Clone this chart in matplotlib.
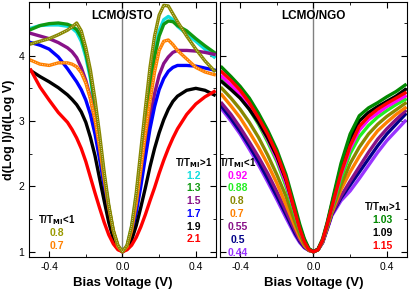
import numpy as np
import matplotlib
matplotlib.use('Agg')
import matplotlib.pyplot as plt
from matplotlib.ticker import MultipleLocator

plt.rcParams['font.family'] = ['Liberation Sans', 'DejaVu Sans']

# ---- LCMO/STO panel ----
x_sto = [-0.5, -0.45, -0.4, -0.35, -0.3, -0.275, -0.25, -0.225, -0.2, -0.175, -0.15, -0.125,
         -0.1, -0.075, -0.05, -0.025, 0, 0.025, 0.05, 0.075, 0.1, 0.125, 0.15, 0.175, 0.2,
         0.225, 0.25, 0.275, 0.3, 0.35, 0.4, 0.45, 0.5]
sto_cyan = [4.42, 4.46, 4.47, 4.47, 4.45, 4.42, 4.36, 4.22, 3.98, 3.65, 3.2, 2.68, 2.15, 1.68, 1.3, 1.08, 1.0,
            1.09, 1.38, 1.85, 2.45, 3.05, 3.6, 4.05, 4.38, 4.55, 4.6, 4.55, 4.45, 4.33, 4.22, 4.1, 3.98]
sto_green = [4.4, 4.46, 4.49, 4.5, 4.48, 4.45, 4.4, 4.28, 4.04, 3.7, 3.24, 2.7, 2.15, 1.68, 1.3, 1.08, 1.0,
             1.08, 1.35, 1.8, 2.38, 2.98, 3.52, 3.98, 4.3, 4.48, 4.53, 4.52, 4.46, 4.38, 4.26, 4.15, 4.05]
sto_purple = [4.34, 4.3, 4.26, 4.2, 4.12, 4.06, 3.97, 3.82, 3.62, 3.36, 3.0, 2.55, 2.08, 1.65, 1.3, 1.08, 1.0,
              1.08, 1.32, 1.7, 2.15, 2.62, 3.05, 3.42, 3.7, 3.88, 3.98, 4.05, 4.08, 4.08, 4.07, 4.05, 4.02]
sto_blue = [4.2, 4.16, 4.1, 3.98, 3.8, 3.7, 3.6, 3.48, 3.32, 3.1, 2.8, 2.42, 2.0, 1.6, 1.28, 1.07, 1.0,
            1.07, 1.28, 1.6, 2.0, 2.45, 2.88, 3.22, 3.48, 3.65, 3.76, 3.82, 3.85, 3.85, 3.84, 3.81, 3.78]
sto_black = [3.77, 3.68, 3.6, 3.51, 3.4, 3.33, 3.25, 3.14, 2.98, 2.75, 2.47, 2.12, 1.78, 1.45, 1.2, 1.05, 1.0,
             1.05, 1.18, 1.4, 1.68, 1.98, 2.3, 2.58, 2.82, 3.02, 3.18, 3.3, 3.38, 3.47, 3.5, 3.47, 3.4]
sto_red = [3.78, 3.52, 3.32, 3.13, 2.98, 2.87, 2.74, 2.58, 2.38, 2.14, 1.9, 1.67, 1.45, 1.26, 1.12, 1.03, 1.0,
           1.03, 1.1, 1.22, 1.38, 1.57, 1.78, 1.98, 2.2, 2.4, 2.58, 2.74, 2.88, 3.1, 3.26, 3.37, 3.45]
sto_orange = [3.93, 3.87, 3.85, 3.89, 3.89, 3.87, 3.83, 3.74, 3.58, 3.34, 3.02, 2.6, 2.12, 1.68, 1.32, 1.08, 1.0,
              1.08, 1.33, 1.74, 2.25, 2.8, 3.3, 3.75, 4.08, 4.22, 4.24, 4.17, 4.08, 3.95, 3.82, 3.75, 3.71]
sto_olive = [4.18, 4.22, 4.26, 4.32, 4.39, 4.44, 4.5, 4.38, 4.12, 3.78, 3.33, 2.8, 2.22, 1.72, 1.33, 1.1, 1.0,
             1.1, 1.4, 1.9, 2.55, 3.2, 3.82, 4.3, 4.62, 4.77, 4.76, 4.64, 4.52, 4.3, 4.1, 3.92, 3.77]

# ---- LCMO/NGO panel ----
x_ngo = [-0.5, -0.45, -0.4, -0.35, -0.3, -0.25, -0.2, -0.15, -0.1, -0.075, -0.05, -0.025, 0,
         0.025, 0.05, 0.075, 0.1, 0.15, 0.2, 0.25, 0.3, 0.35, 0.4, 0.45, 0.5]
ngo_violet = [3.18, 3.0, 2.8, 2.57, 2.33, 2.07, 1.8, 1.52, 1.25, 1.14, 1.06, 1.02, 1.0,
              1.03, 1.14, 1.34, 1.55, 1.78, 1.93, 2.12, 2.32, 2.52, 2.7, 2.85, 3.0]
ngo_navy = [3.22, 3.04, 2.84, 2.62, 2.38, 2.12, 1.85, 1.57, 1.28, 1.16, 1.07, 1.02, 1.0,
            1.03, 1.14, 1.35, 1.57, 1.82, 2.02, 2.22, 2.42, 2.62, 2.8, 2.95, 3.1]
ngo_purple = [3.27, 3.1, 2.9, 2.68, 2.45, 2.2, 1.92, 1.62, 1.32, 1.18, 1.08, 1.02, 1.0,
              1.03, 1.15, 1.36, 1.58, 1.85, 2.08, 2.3, 2.52, 2.72, 2.88, 3.02, 3.15]
ngo_orange = [3.4, 3.23, 3.05, 2.83, 2.6, 2.34, 2.05, 1.72, 1.38, 1.22, 1.1, 1.02, 1.0,
              1.03, 1.15, 1.37, 1.6, 1.95, 2.22, 2.46, 2.67, 2.85, 2.98, 3.1, 3.2]
ngo_olive = [3.5, 3.35, 3.18, 2.98, 2.75, 2.48, 2.18, 1.85, 1.45, 1.27, 1.12, 1.03, 1.0,
             1.03, 1.16, 1.38, 1.62, 2.02, 2.35, 2.6, 2.8, 2.95, 3.07, 3.17, 3.27]
ngo_lime = [3.66, 3.52, 3.37, 3.18, 2.95, 2.68, 2.38, 2.0, 1.55, 1.33, 1.15, 1.03, 1.0,
            1.03, 1.17, 1.4, 1.65, 2.12, 2.5, 2.76, 2.93, 3.06, 3.16, 3.25, 3.33]
ngo_magenta = [3.68, 3.55, 3.4, 3.2, 2.98, 2.72, 2.42, 2.05, 1.6, 1.36, 1.17, 1.04, 1.0,
               1.04, 1.17, 1.42, 1.68, 2.18, 2.58, 2.86, 3.02, 3.12, 3.22, 3.3, 3.38]
ngo_black = [3.6, 3.48, 3.35, 3.18, 2.98, 2.74, 2.46, 2.1, 1.62, 1.38, 1.18, 1.04, 1.0,
             1.04, 1.18, 1.43, 1.72, 2.3, 2.72, 3.0, 3.13, 3.22, 3.3, 3.38, 3.48]
ngo_green = [3.82, 3.68, 3.53, 3.35, 3.12, 2.86, 2.56, 2.18, 1.68, 1.42, 1.2, 1.05, 1.0,
             1.04, 1.2, 1.45, 1.75, 2.35, 2.8, 3.08, 3.2, 3.28, 3.37, 3.45, 3.55]
ngo_red = [3.75, 3.62, 3.47, 3.28, 3.05, 2.8, 2.5, 2.12, 1.6, 1.35, 1.15, 1.03, 1.0,
           1.03, 1.18, 1.42, 1.68, 2.2, 2.62, 2.92, 3.07, 3.18, 3.27, 3.35, 3.43]

sto_low_labels = ['0.8', '0.7']
sto_low_colors = ['#999900', '#ff8000']
sto_high_labels = ['1.2', '1.3', '1.5', '1.7', '1.9', '2.1']
sto_high_colors = ['#11dddd', '#119911', '#881188', '#0000ff', '#000000', '#ff0000']
ngo_low_labels = ['0.92', '0.88', '0.8', '0.7', '0.55', '0.5', '0.44']
ngo_low_colors = ['#ff00ff', '#22ee22', '#888800', '#ff8000', '#881188', '#000088', '#9933ff']
ngo_high_labels = ['1.03', '1.09', '1.15']
ngo_high_colors = ['#008800', '#000000', '#ff0000']


def style_axes(ax):
    ax.set_xlim(-0.51, 0.51)
    ax.set_ylim(0.92, 4.82)
    ax.xaxis.set_major_locator(MultipleLocator(0.4))
    ax.xaxis.set_minor_locator(MultipleLocator(0.2))
    ax.yaxis.set_major_locator(MultipleLocator(1))
    ax.yaxis.set_minor_locator(MultipleLocator(0.5))
    ax.tick_params(which='both', direction='in', top=True, right=True, labelsize=7.5)
    ax.tick_params(which='major', length=4)
    ax.tick_params(which='minor', length=2.5)
    ax.set_xticks([-0.4, 0.0, 0.4])
    ax.set_xticklabels(['-0.4', '0.0', '0.4'])
    ax.axvline(0, color='gray', lw=1, zorder=0)
    ax.set_xlabel('Bias Voltage (V)', fontsize=9.5, fontweight='bold', labelpad=4)
    for s in ax.spines.values():
        s.set_linewidth(0.8)


def label_block(ax, x, y0, dy, header, labels, colors):
    ax.text(x, y0, header, fontsize=7, fontweight='bold', ha='center', va='center')
    for i, (lab, col) in enumerate(zip(labels, colors)):
        ax.text(x, y0 - dy * (i + 1), lab, fontsize=7.5, fontweight='bold', color=col,
                ha='center', va='center')


fig = plt.figure(figsize=(4.16, 2.94), dpi=100)
ax1 = fig.add_axes([0.0697, 0.126, 0.4495, 0.867])
ax2 = fig.add_axes([0.5288, 0.126, 0.4495, 0.867])

lw = 2.4
ax1.plot(x_sto, sto_cyan, color='#11dddd', lw=lw)
ax1.plot(x_sto, sto_green, color='#119911', lw=lw)
ax1.plot(x_sto, sto_purple, color='#881188', lw=lw)
ax1.plot(x_sto, sto_blue, color='#0000ff', lw=lw)
ax1.plot(x_sto, sto_black, color='#000000', lw=lw)
ax1.plot(x_sto, sto_red, color='#ff0000', lw=lw)
ax1.plot(x_sto, sto_orange, color='#ff8000', lw=lw)
ax1.plot(x_sto, sto_orange, color='white', lw=0.5, ls=(0, (1, 2.5)))
ax1.plot(x_sto, sto_olive, color='#888800', lw=lw)
ax1.plot(x_sto, sto_olive, color='white', lw=0.5, ls=(0, (1, 2)))
style_axes(ax1)
ax1.set_ylabel('d(Log I)/d(Log V)', fontsize=9, fontweight='bold', labelpad=2)
ax1.text(0.0, 4.6, 'LCMO/STO', fontsize=8.5, fontweight='bold', ha='center', va='center')
label_block(ax1, -0.36, 1.49, 0.2, 'T/T$_{\\mathbf{MI}}$<1', sto_low_labels, sto_low_colors)
label_block(ax1, 0.39, 2.36, 0.195, 'T/T$_{\\mathbf{MI}}$>1', sto_high_labels, sto_high_colors)

ax2.plot(x_ngo, ngo_violet, color='#9933ff', lw=lw)
ax2.plot(x_ngo, ngo_navy, color='#000088', lw=lw)
ax2.plot(x_ngo, ngo_purple, color='#881188', lw=lw)
ax2.plot(x_ngo, ngo_orange, color='#ff8000', lw=lw)
ax2.plot(x_ngo, ngo_olive, color='#888800', lw=lw)
ax2.plot(x_ngo, ngo_lime, color='#22ee22', lw=lw)
ax2.plot(x_ngo, ngo_magenta, color='#ff00ff', lw=lw)
ax2.plot(x_ngo, ngo_black, color='#000000', lw=lw)
ax2.plot(x_ngo, ngo_green, color='#008800', lw=lw)
ax2.plot(x_ngo, ngo_red, color='#ff0000', lw=lw)
style_axes(ax2)
ax2.set_yticklabels([])
ax2.text(0.0, 4.6, 'LCMO/NGO', fontsize=8.5, fontweight='bold', ha='center', va='center')
label_block(ax2, -0.415, 2.36, 0.196, 'T/T$_{\\mathbf{MI}}$<1', ngo_low_labels, ngo_low_colors)
label_block(ax2, 0.375, 1.69, 0.2, 'T/T$_{\\mathbf{MI}}$>1', ngo_high_labels, ngo_high_colors)

fig.savefig('out.png', dpi=100)
